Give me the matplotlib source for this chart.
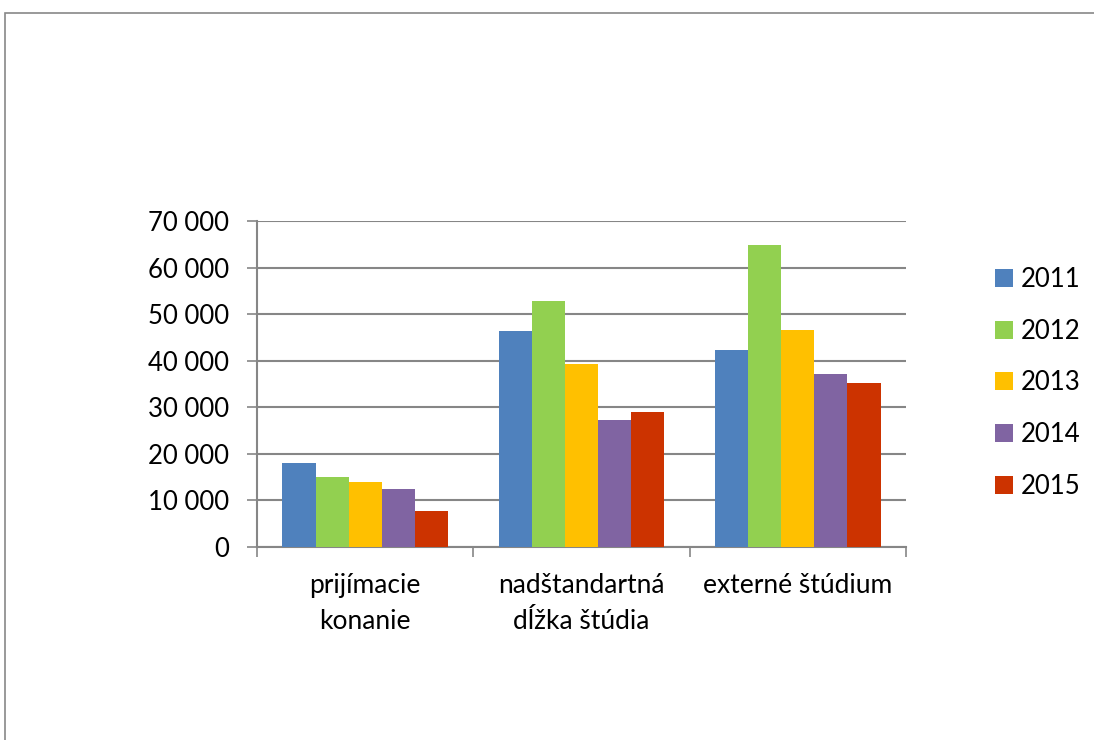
import matplotlib
matplotlib.use("Agg")
import matplotlib.pyplot as plt
from matplotlib.patches import Rectangle
from matplotlib.ticker import FuncFormatter, FixedLocator
import numpy as np

categories = ["prijímacie\nkonanie", "nadštandartná\ndĺžka štúdia", "externé štúdium"]
years = ["2011", "2012", "2013", "2014", "2015"]
v2011 = [18100, 46300, 42400]
v2012 = [15100, 52900, 64900]
v2013 = [13900, 39200, 46500]
v2014 = [12400, 27200, 37200]
v2015 = [7800, 29000, 35200]
series = [v2011, v2012, v2013, v2014, v2015]
colors = ["#4F81BD", "#92D050", "#FFC000", "#8064A2", "#CC3300"]

plt.rcParams['font.family'] = ['Lato', 'DejaVu Sans']

W, H = 1094, 740
fig = plt.figure(figsize=(W / 100, H / 100), dpi=100)
ax = fig.add_axes([257 / W, 1 - 547 / H, (906 - 257) / W, (547 - 221) / H])

grid_c = "#868686"
fs = 18.5
x = np.arange(len(categories))
bw = 0.153
for i, (vals, c) in enumerate(zip(series, colors)):
    ax.bar(x + (i - 2) * bw, vals, width=bw, color=c, label=years[i], zorder=3,
           edgecolor="none")

ax.set_xlim(-0.5, len(categories) - 0.5)
ax.set_ylim(0, 70000)
ax.set_yticks(np.arange(0, 70001, 10000))
ax.yaxis.set_major_formatter(FuncFormatter(lambda v, p: f"{int(v):,}".replace(",", " ")))
ax.yaxis.grid(True, color=grid_c, linewidth=1.5, zorder=0)
ax.set_axisbelow(True)

ax.set_xticks(x)
ax.set_xticklabels(categories, linespacing=1.55)
ax.xaxis.set_minor_locator(FixedLocator(np.arange(-0.5, len(categories), 1.0)))
ax.tick_params(axis='x', which='major', length=0, pad=19, labelsize=fs + 0.5)
ax.tick_params(axis='x', which='minor', length=7, width=1.2, color=grid_c, direction='out')
ax.tick_params(axis='y', length=7, width=1.2, color=grid_c, pad=13, labelsize=fs)

for s in ["top", "right"]:
    ax.spines[s].set_visible(False)
for s in ["left", "bottom"]:
    ax.spines[s].set_color(grid_c)
    ax.spines[s].set_linewidth(1.5)

leg = ax.legend(loc="upper left", bbox_to_anchor=(995 / W, 1 - 267 / H),
                bbox_transform=fig.transFigure, frameon=False, fontsize=fs,
                handlelength=0.7, handleheight=0.7, handletextpad=0.3,
                labelspacing=1.04, borderaxespad=0, borderpad=0)

fig.add_artist(Rectangle((4.5 / W, -0.05), 1.1, 1 - 12.5 / H + 0.05,
                         transform=fig.transFigure, fill=False,
                         edgecolor="#888888", linewidth=1.2))

fig.savefig("out.png", dpi=100)
